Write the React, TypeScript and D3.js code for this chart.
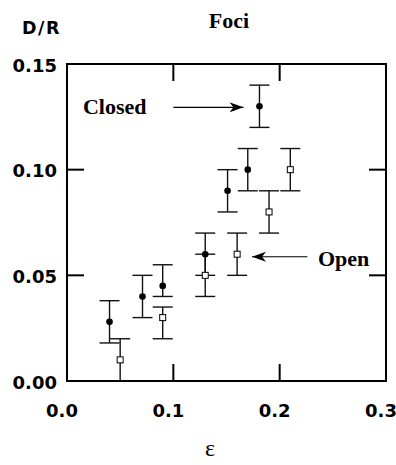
import { useEffect, useRef } from 'react';
import * as d3 from 'd3';

// Closed foci (filled circles)
const closedX = [0.040, 0.071, 0.090, 0.130, 0.151, 0.170, 0.181];
const closedY = [0.028, 0.040, 0.045, 0.060, 0.090, 0.100, 0.130];
const closedHi = [0.038, 0.050, 0.055, 0.070, 0.100, 0.110, 0.140];
const closedLo = [0.018, 0.030, 0.040, 0.050, 0.080, 0.090, 0.120];

// Open foci (open squares)
const openX = [0.050, 0.090, 0.130, 0.160, 0.190, 0.210];
const openY = [0.010, 0.030, 0.050, 0.060, 0.080, 0.100];
const openHi = [0.020, 0.035, 0.060, 0.070, 0.090, 0.110];
const openLo = [0.000, 0.020, 0.040, 0.050, 0.070, 0.090];

const xTicks = [0.0, 0.1, 0.2, 0.3];
const yTicks = [0.0, 0.05, 0.10, 0.15];

export default function App() {
    const svgRef = useRef<SVGSVGElement>(null);
    const width = 396;
    const height = 465;

    useEffect(() => {
        if (!svgRef.current) return;
        const svg = d3.select(svgRef.current);
        svg.selectAll("*").remove();

        const margin = { top: 64, right: 10, bottom: 84, left: 67 };
        const w = width - margin.left - margin.right;
        const h = height - margin.top - margin.bottom;

        const x = d3.scaleLinear().domain([0, 0.3]).range([0, w]);
        const y = d3.scaleLinear().domain([0, 0.15]).range([h, 0]);

        const g = svg.append("g")
            .attr("transform", `translate(${margin.left},${margin.top})`);

        const sans = "DejaVu Sans, Verdana, sans-serif";
        const serif = "Liberation Serif, Times New Roman, serif";

        // arrow marker
        svg.append("defs").append("marker")
            .attr("id", "arrowHead")
            .attr("viewBox", "0 0 14 10")
            .attr("refX", 14)
            .attr("refY", 5)
            .attr("markerWidth", 14)
            .attr("markerHeight", 10)
            .attr("markerUnits", "userSpaceOnUse")
            .attr("orient", "auto")
            .append("path")
            .attr("d", "M0,0 L14,5 L0,10 L4,5 Z")
            .attr("fill", "#000");

        // frame
        g.append("rect")
            .attr("x", 0).attr("y", 0)
            .attr("width", w).attr("height", h)
            .attr("fill", "none")
            .attr("stroke", "#000")
            .attr("stroke-width", 2);

        // inward ticks
        const tickLen = 17;
        [0.1, 0.2].forEach(t => {
            g.append("line").attr("x1", x(t)).attr("x2", x(t)).attr("y1", h).attr("y2", h - tickLen)
                .attr("stroke", "#000").attr("stroke-width", 2);
            g.append("line").attr("x1", x(t)).attr("x2", x(t)).attr("y1", 0).attr("y2", tickLen)
                .attr("stroke", "#000").attr("stroke-width", 2);
        });
        [0.05, 0.10].forEach(t => {
            g.append("line").attr("x1", 0).attr("x2", tickLen).attr("y1", y(t)).attr("y2", y(t))
                .attr("stroke", "#000").attr("stroke-width", 2);
            g.append("line").attr("x1", w).attr("x2", w - tickLen).attr("y1", y(t)).attr("y2", y(t))
                .attr("stroke", "#000").attr("stroke-width", 2);
        });

        // tick labels
        g.selectAll(".xlab")
            .data(xTicks)
            .enter()
            .append("text")
            .attr("x", d => x(d) - 5)
            .attr("y", h + 36)
            .attr("text-anchor", "middle")
            .attr("font-family", sans)
            .attr("font-weight", "bold")
            .attr("font-size", 18)
            .text(d => d.toFixed(1));

        g.selectAll(".ylab")
            .data(yTicks)
            .enter()
            .append("text")
            .attr("x", -10)
            .attr("y", d => y(d) + 7.5)
            .attr("text-anchor", "end")
            .attr("font-family", sans)
            .attr("font-weight", "bold")
            .attr("font-size", 18)
            .text(d => d.toFixed(2));

        // error bars
        const capW = 10;
        const drawErr = (xs: number[], lo: number[], hi: number[]) => {
            xs.forEach((xv, i) => {
                g.append("line")
                    .attr("x1", x(xv)).attr("x2", x(xv))
                    .attr("y1", y(lo[i])).attr("y2", y(hi[i]))
                    .attr("stroke", "#111").attr("stroke-width", 1.4);
                [lo[i], hi[i]].forEach(v => {
                    if (v <= 0) return;
                    g.append("line")
                        .attr("x1", x(xv) - capW).attr("x2", x(xv) + capW)
                        .attr("y1", y(v)).attr("y2", y(v))
                        .attr("stroke", "#111").attr("stroke-width", 1.4);
                });
            });
        };
        drawErr(closedX, closedLo, closedHi);
        drawErr(openX, openLo, openHi);

        // markers
        g.selectAll(".closed")
            .data(closedX)
            .enter()
            .append("circle")
            .attr("cx", d => x(d))
            .attr("cy", (d, i) => y(closedY[i]))
            .attr("r", 3.3)
            .attr("fill", "#000");

        g.selectAll(".open")
            .data(openX)
            .enter()
            .append("rect")
            .attr("x", d => x(d) - 3)
            .attr("y", (d, i) => y(openY[i]) - 3)
            .attr("width", 6)
            .attr("height", 6)
            .attr("fill", "#fff")
            .attr("stroke", "#000")
            .attr("stroke-width", 1);

        // annotations
        g.append("text")
            .attr("x", x(0.015))
            .attr("y", y(0.1265))
            .attr("font-family", serif)
            .attr("font-weight", "bold")
            .attr("font-size", 22)
            .text("Closed");
        g.append("line")
            .attr("x1", x(0.1)).attr("x2", x(0.166))
            .attr("y1", y(0.1295)).attr("y2", y(0.1295))
            .attr("stroke", "#000").attr("stroke-width", 1.2)
            .attr("marker-end", "url(#arrowHead)");

        g.append("text")
            .attr("x", x(0.236))
            .attr("y", y(0.0545))
            .attr("font-family", serif)
            .attr("font-weight", "bold")
            .attr("font-size", 22)
            .text("Open");
        g.append("line")
            .attr("x1", x(0.226)).attr("x2", x(0.174))
            .attr("y1", y(0.0588)).attr("y2", y(0.0588))
            .attr("stroke", "#000").attr("stroke-width", 1.2)
            .attr("marker-end", "url(#arrowHead)");

        // titles
        svg.append("text")
            .attr("x", 229)
            .attr("y", 28)
            .attr("text-anchor", "middle")
            .attr("font-family", serif)
            .attr("font-weight", "bold")
            .attr("font-size", 22)
            .text("Foci");

        svg.append("text")
            .attr("x", 22)
            .attr("y", 33.5)
            .attr("font-family", sans)
            .attr("font-weight", "bold")
            .attr("font-size", 17.5)
            .attr("letter-spacing", 1.5)
            .text("D/R");

        svg.append("text")
            .attr("x", 210)
            .attr("y", 456)
            .attr("text-anchor", "middle")
            .attr("font-family", serif)
            .attr("font-size", 24)
            .text("ε");
    }, []);

    return (
        <div style={{ position: "absolute", left: 0, top: 0 }}>
            <svg ref={svgRef} width={width} height={height} style={{ display: "block", background: "#fff" }} />
        </div>
    );
}
